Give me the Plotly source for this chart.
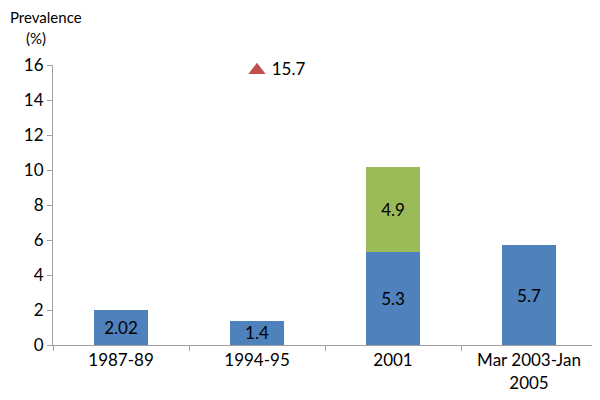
import plotly.graph_objects as go

# --- DATA ---
periods = ["1987-89", "1994-95", "2001", "Mar 2003-Jan<br>2005"]
blue_vals = [2.02, 1.4, 5.3, 5.7]
green_vals = [None, None, 4.9, None]
marker_period = ["1994-95"]
marker_vals = [15.7]

FONT = "Lato, 'Open Sans', sans-serif"
BLUE = "#4F81BD"
GREEN = "#9BBB59"
RED = "#C0504D"
FS = 17

fig = go.Figure()

fig.add_trace(go.Bar(
    x=periods, y=blue_vals, marker=dict(color=BLUE, line=dict(width=0)),
    text=[str(v) for v in blue_vals], textposition="inside",
    insidetextanchor="middle", textfont=dict(color="black", size=FS, family=FONT),
    width=0.4, showlegend=False, hoverinfo="skip",
))
fig.add_trace(go.Bar(
    x=periods, y=green_vals, marker=dict(color=GREEN, line=dict(width=0)),
    text=[str(v) if v is not None else "" for v in green_vals], textposition="inside",
    insidetextanchor="middle", textfont=dict(color="black", size=FS, family=FONT),
    width=0.4, showlegend=False, hoverinfo="skip",
))
fig.add_trace(go.Scatter(
    x=marker_period, y=marker_vals, mode="markers+text",
    marker=dict(symbol="triangle-up", size=15, color=RED),
    text=[" " + str(v) for v in marker_vals], textposition="middle right",
    textfont=dict(color="black", size=FS, family=FONT),
    showlegend=False, hoverinfo="skip", cliponaxis=False,
))

# page body adds ~8px offset, so margins are shifted to compensate
fig.update_layout(
    barmode="stack",
    width=600, height=400,
    margin=dict(l=45, r=11, t=57, b=63, autoexpand=False),
    plot_bgcolor="white", paper_bgcolor="white",
    font=dict(family=FONT, size=FS, color="black"),
    uniformtext=dict(minsize=FS, mode="show"),
    annotations=[
        dict(text="Prevalence", x=-0.082, y=1.17, xref="paper", yref="paper",
             xanchor="left", yanchor="middle", showarrow=False,
             font=dict(size=15, family=FONT)),
        dict(text="(%)", x=-0.031, y=1.095, xref="paper", yref="paper",
             xanchor="center", yanchor="middle", showarrow=False,
             font=dict(size=15, family=FONT)),
    ],
)

fig.update_xaxes(
    automargin=False,
    showline=True, linecolor="#A0A0A0", linewidth=1,
    ticks="outside", tickson="boundaries", ticklen=5, tickcolor="#A0A0A0",
    showgrid=False, tickfont=dict(size=FS, family=FONT),
)
fig.update_yaxes(
    automargin=False,
    range=[0, 16], dtick=2, showline=True, linecolor="#A0A0A0", linewidth=1,
    ticks="outside", ticklen=5, tickcolor="#A0A0A0", showgrid=False,
    zeroline=False, tickfont=dict(size=FS, family=FONT),
)

fig.write_html("out.html")
